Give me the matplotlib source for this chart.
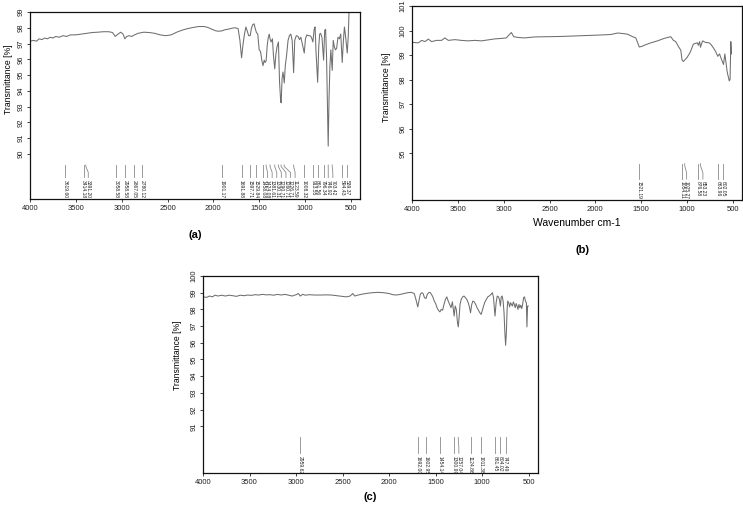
import matplotlib
matplotlib.use('Agg')
import matplotlib.pyplot as plt

plt.rcParams['font.family'] = ['Liberation Sans', 'DejaVu Sans']

# ---- panel (a) spectrum ----
wn_a = [4000, 3960, 3930, 3900, 3870, 3840, 3810, 3780, 3750, 3720, 3680, 3640, 3600, 3560,
        3500, 3440, 3380, 3320, 3260, 3200, 3140, 3100, 3070, 3040, 3010, 2985, 2965, 2945,
        2920, 2890, 2860, 2820, 2760, 2700, 2640, 2580, 2520, 2460, 2400, 2340, 2280, 2220,
        2160, 2100, 2060, 2020, 1980, 1950, 1910, 1870, 1830, 1790, 1760, 1730, 1710, 1692,
        1675, 1660, 1645, 1630, 1615, 1598, 1585, 1570, 1555, 1545, 1530, 1515, 1500, 1485,
        1470, 1458, 1445, 1435, 1424, 1412, 1400, 1390, 1381, 1370, 1355, 1345, 1330, 1318,
        1305, 1290, 1278, 1265, 1260, 1250, 1240, 1226, 1215, 1200, 1185, 1170, 1155, 1140,
        1124, 1112, 1095, 1075, 1060, 1045, 1030, 1008, 995, 980, 965, 945, 930, 914, 900,
        890, 880, 862, 850, 840, 830, 815, 797, 785, 775, 765, 755, 747, 738, 728, 718, 703,
        692, 680, 668, 655, 640, 625, 610, 594, 582, 570, 560, 550, 539, 528, 518]
t_a = [97.15, 97.2, 97.15, 97.3, 97.25, 97.35, 97.3, 97.4, 97.35, 97.45, 97.4, 97.5, 97.45, 97.55,
       97.55, 97.6, 97.65, 97.7, 97.72, 97.75, 97.75, 97.7, 97.45, 97.6, 97.72, 97.6, 97.3, 97.45,
       97.5, 97.45, 97.55, 97.65, 97.72, 97.7, 97.65, 97.55, 97.5, 97.55, 97.72, 97.85, 97.95, 98.02,
       98.08, 98.08, 98.02, 97.92, 97.82, 97.78, 97.8, 97.88, 97.92, 97.98, 98.0, 97.95, 97.2, 96.1,
       97.0, 97.6, 98.05, 97.8, 97.5, 97.5, 97.95, 98.2, 98.25, 98.0, 97.7, 97.6, 96.6, 96.5,
       95.9, 95.6, 95.95, 95.8, 95.9, 96.9, 97.4, 97.6, 97.3, 97.1, 97.3, 96.3, 95.4, 96.3,
       96.8, 97.1, 94.6, 93.3, 93.25, 94.8, 95.2, 94.5, 95.6, 96.3, 97.2, 97.5, 97.6, 97.2,
       95.15, 97.2, 97.5, 97.45, 97.25, 97.4, 97.0, 96.4, 97.3, 97.55, 97.5, 97.5, 97.4, 97.1, 97.9,
       98.05, 96.5, 94.55, 96.8, 97.6, 97.65, 97.4, 95.95, 97.85, 97.9, 96.2, 93.0, 90.5, 93.5, 95.6, 96.6, 95.3,
       97.2, 96.8, 96.6, 96.7, 97.4, 97.3, 97.6, 95.8, 97.1, 98.05, 97.6, 97.0, 96.4, 97.5, 99.3]
peaks_a = [3619.60, 3414.18, 3391.20, 3058.58, 2958.58, 2867.05, 2780.12, 1901.17, 1691.88,
           1597.71, 1529.84, 1458.08, 1424.08, 1381.61, 1330.31, 1290.71, 1260.71, 1226.71,
           1123.59, 1008.32, 913.55, 861.56, 796.34, 746.92, 703.42, 594.43, 539.37]

# ---- panel (b) spectrum ----
wn_b = [4000, 3930, 3895, 3859, 3822, 3786, 3732, 3677, 3641, 3604, 3533, 3460, 3387, 3315,
        3242, 3170, 3098, 3025, 2971, 2935, 2916, 2891, 2843, 2772, 2663, 2517, 2373, 2228,
        2083, 1938, 1829, 1757, 1702, 1648, 1593, 1558, 1533, 1521, 1490, 1467, 1395, 1322,
        1250, 1177, 1148, 1123, 1093, 1068, 1054, 1040, 1025, 1000, 967, 930, 887, 876, 862,
        853, 830, 800, 760, 742, 713, 688, 664, 645, 626, 602, 587, 561, 539, 530, 522, 514]
t_b = [99.52, 99.5, 99.6, 99.55, 99.65, 99.55, 99.6, 99.6, 99.7, 99.6, 99.63, 99.6, 99.58, 99.6,
       99.58, 99.62, 99.66, 99.68, 99.7, 99.85, 99.92, 99.75, 99.72, 99.7, 99.74, 99.75, 99.76, 99.78,
       99.8, 99.82, 99.84, 99.9, 99.88, 99.85, 99.75, 99.7, 99.45, 99.33, 99.36, 99.4, 99.5, 99.58,
       99.68, 99.75, 99.6, 99.55, 99.35, 99.2, 98.8, 98.74, 98.8, 98.9, 99.1, 99.45, 99.5, 99.4, 99.55,
       99.32, 99.58, 99.52, 99.5, 99.45, 99.3, 99.15, 98.95, 99.05, 98.85, 98.62, 99.05, 98.3, 97.95, 98.0, 99.55, 99.05]
peaks_b = [1521.19, 1054.11, 1025.27, 876.58, 853.23, 663.96, 602.05]

# ---- panel (c) spectrum ----
wn_c = [4000, 3960, 3930, 3900, 3870, 3840, 3800, 3760, 3720, 3680, 3640, 3600, 3560, 3520,
        3480, 3440, 3400, 3360, 3320, 3280, 3240, 3200, 3160, 3120, 3080, 3040, 3000, 2975,
        2955, 2930, 2900, 2860, 2800, 2740, 2680, 2620, 2560, 2500, 2460, 2420, 2390, 2370,
        2340, 2300, 2240, 2180, 2120, 2060, 2000, 1960, 1920, 1880, 1840, 1800, 1760, 1730,
        1712, 1692, 1680, 1665, 1650, 1635, 1620, 1603, 1590, 1575, 1560, 1545, 1530, 1515,
        1500, 1485, 1470, 1454, 1440, 1425, 1410, 1395, 1380, 1365, 1350, 1335, 1320, 1301,
        1290, 1278, 1265, 1257, 1248, 1238, 1225, 1210, 1195, 1180, 1165, 1150, 1135, 1125,
        1112, 1100, 1085, 1070, 1055, 1040, 1025, 1011, 1000, 985, 970, 955, 940, 925, 905,
        890, 878, 862, 850, 838, 825, 815, 804, 795, 785, 775, 765, 756, 748, 740, 732, 725,
        715, 705, 695, 685, 675, 665, 655, 645, 635, 625, 615, 605, 595, 585, 575, 565, 555,
        545, 535, 525, 519, 512, 505]
t_c = [98.75, 98.72, 98.8, 98.75, 98.85, 98.8, 98.85, 98.8, 98.85, 98.82, 98.78, 98.85, 98.82, 98.86,
       98.84, 98.88, 98.86, 98.9, 98.87, 98.88, 98.85, 98.9, 98.86, 98.9, 98.85, 98.8, 98.88, 98.95,
       98.8, 98.9, 98.85, 98.88, 98.86, 98.86, 98.87, 98.86, 98.82, 98.78, 98.75, 98.8, 98.95, 98.8,
       98.85, 98.9, 98.96, 99.0, 99.02, 99.0, 98.95, 98.88, 98.86, 98.9, 98.95, 99.0, 99.02, 98.95,
       98.6, 98.15, 98.5, 98.9, 99.0, 98.95, 98.7, 98.65, 98.9, 99.0, 99.02, 98.9, 98.75, 98.5,
       98.35, 98.1, 97.95, 97.85, 98.0, 97.95, 98.3, 98.6, 98.75, 98.5, 98.3, 98.1, 98.45, 97.6,
       98.2, 98.0, 97.2, 96.95, 97.5, 98.3, 98.6, 98.75, 98.8, 98.7, 98.6, 98.4, 98.1, 97.8,
       98.3, 98.5, 98.45, 98.3, 98.1, 97.95, 97.8, 97.7, 97.9, 98.2, 98.45, 98.6, 98.75, 98.8, 98.9,
       99.0, 98.7, 97.6, 98.4, 98.8, 98.75, 98.6, 98.2, 98.75, 98.8, 98.5, 97.8, 96.6, 95.85, 96.6, 98.0, 98.5,
       98.4, 98.15, 98.4, 98.3, 98.2, 98.45, 98.3, 98.1, 98.35, 98.2, 98.0, 98.3, 98.1, 98.25, 98.05, 98.3, 98.7,
       98.75, 98.5, 98.4, 96.95, 98.2, 98.2]
peaks_c = [2959.62, 1692.00, 1602.95, 1454.14, 1300.99, 1257.04, 1124.86, 1011.38,
           861.45, 804.02, 747.49]

xticks = [4000, 3500, 3000, 2500, 2000, 1500, 1000, 500]


def peak_marks(ax, peaks, y_top, y_bot, min_gap=50):
    trans = ax.get_xaxis_transform()
    peaks = sorted(peaks, reverse=True)
    pos = []
    for p in peaks:
        pos.append(p if not pos else min(p, pos[-1] - min_gap))
    h = y_top - y_bot
    for p, q in zip(peaks, pos):
        ax.plot([p, p, q, q], [y_top, y_top - 0.12 * h, y_top - 0.6 * h, y_bot],
                color='#8a8a8a', lw=0.6, transform=trans, clip_on=False)
        ax.text(q, y_bot - 0.012, f"{p:.2f}", transform=trans, rotation=270,
                ha='center', va='top', fontsize=3.6, color='#222222')


def panel(rect, wn, t, ylim, yticks, peaks, lab_y, y_top, y_bot):
    ax = fig.add_axes(rect)
    ax.plot(wn, t, color='#6e6e6e', lw=0.75)
    ax.set_xlim(4000, 400)
    ax.set_ylim(*ylim)
    ax.set_xticks(xticks)
    ax.set_yticks(yticks)
    ax.set_yticklabels([str(v) for v in yticks], rotation=90, va='center')
    ax.tick_params(labelsize=5.5, length=2.5, width=0.6, pad=1.5, colors='#222222')
    for s in ax.spines.values():
        s.set_linewidth(0.9)
        s.set_color('#111111')
    ax.set_ylabel('Transmittance [%]', fontsize=6.2)
    ax.yaxis.set_label_coords(lab_y[0], lab_y[1])
    peak_marks(ax, peaks, y_top, y_bot)
    return ax


fig = plt.figure(figsize=(7.43, 5.07), dpi=100)

ax_a = panel([30 / 743, 1 - 199 / 507, 330 / 743, 187 / 507], wn_a, t_a, (87.15, 99),
             list(range(90, 100)), peaks_a, (-0.05, 0.64), 0.182, 0.115)
ax_b = panel([412 / 743, 1 - 200 / 507, 330 / 743, 194 / 507], wn_b, t_b, (93.1, 101),
             list(range(95, 102)), peaks_b, (-0.065, 0.58), 0.187, 0.108)
ax_c = panel([203 / 743, 1 - 473 / 507, 335 / 743, 197 / 507], wn_c, t_c, (88.2, 100),
             list(range(91, 101)), peaks_c, (-0.063, 0.6), 0.181, 0.100)

ax_b.set_xlabel('Wavenumber cm-1', fontsize=7.5, labelpad=4)

fig.text(195 / 743, 1 - 235 / 507, '(a)', fontsize=8, fontweight='bold', ha='center', va='center')
fig.text(583 / 743, 1 - 250 / 507, '(b)', fontsize=8, fontweight='bold', ha='center', va='center')
fig.text(370 / 743, 1 - 497 / 507, '(c)', fontsize=8, fontweight='bold', ha='center', va='center')

fig.savefig('out.png', dpi=100)
